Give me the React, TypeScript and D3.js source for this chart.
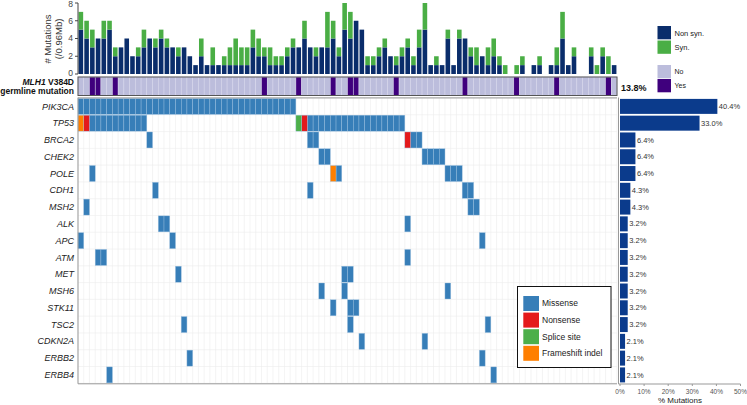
import React from 'react';
import * as d3 from 'd3';

const genes = ['PIK3CA', 'TP53', 'BRCA2', 'CHEK2', 'POLE', 'CDH1', 'MSH2', 'ALK', 'APC', 'ATM', 'MET', 'MSH6', 'STK11', 'TSC2', 'CDKN2A', 'ERBB2', 'ERBB4'];
const genePct = [40.4, 33.0, 6.4, 6.4, 6.4, 4.3, 4.3, 3.2, 3.2, 3.2, 3.2, 3.2, 3.2, 3.2, 2.1, 2.1, 2.1];

// per-sample mutation burden (94 samples)
const nonSyn = [5, 4, 3, 4, 4, 5, 2, 3, 4, 2, 2, 3, 4, 3, 4, 3, 3, 2, 3, 2, 1, 2, 1, 1, 1, 1, 1, 1, 1, 1,
  3, 2, 2, 1, 1, 1, 2, 3, 3, 4, 3, 2, 3, 3, 4, 2, 5, 4, 6, 5, 1, 1, 2, 3, 2, 1, 2, 3, 1, 3,
  5, 1, 1, 1, 4, 1, 4, 4, 2, 1, 2, 1, 2, 1, 0, 0, 0, 1, 0, 1, 1, 0, 1, 1, 4, 1, 2, 0, 0, 2,
  0, 2, 0, 1];
const syn = [2, 2, 2, 0, 2, 1, 1, 0, 0, 0, 1, 2, 0, 1, 1, 1, 0, 1, 0, 0, 0, 2, 0, 2, 0, 1, 2, 3, 2, 2,
  2, 2, 1, 2, 1, 1, 1, 1, 0, 2, 0, 1, 0, 4, 2, 1, 3, 3, 0, 0, 1, 1, 1, 1, 0, 1, 1, 1, 1, 2,
  3, 0, 1, 0, 1, 0, 1, 0, 1, 2, 0, 2, 2, 1, 1, 0, 1, 1, 0, 0, 1, 0, 0, 2, 3, 0, 1, 0, 0, 1,
  1, 1, 2, 0];

// MLH1 V384D germline carriers (sample indices)
const germlineYes = [2, 3, 6, 32, 38, 44, 47, 48, 55, 67, 76, 83, 92];

// somatic alterations per gene (sample indices)
const missense = [
  [0, 1, 2, 3, 4, 5, 6, 7, 8, 9, 10, 11, 12, 13, 14, 15, 16, 17, 18, 19, 20, 21, 22, 23, 24, 25, 26, 27, 28, 29, 30, 31, 32, 33, 34, 35, 36, 37],
  [2, 3, 4, 5, 6, 7, 8, 9, 10, 11, 40, 41, 42, 43, 44, 45, 46, 47, 48, 49, 50, 51, 52, 53, 54, 55, 56],
  [12, 40, 41, 58, 59],
  [42, 43, 60, 61, 62, 63],
  [2, 45, 64, 65, 66],
  [13, 40, 67, 68],
  [1, 68, 69],
  [14, 15, 57],
  [0, 16, 70],
  [3, 4, 57],
  [17, 46, 47],
  [42, 46, 64],
  [44, 47, 48],
  [18, 47, 71],
  [49, 60],
  [19, 70],
  [5, 72],
];
const nonsense = [[], [1, 39], [57], [], [], [], [], [], [], [], [], [], [], [], [], [], []];
const splice = [[], [38], [], [], [], [], [], [], [], [], [], [], [], [], [], [], []];
const frameshift = [[], [0], [], [], [44], [], [], [], [], [], [], [], [], [], [], [], []];

const typeNames = ['Missense', 'Nonsense', 'Splice site', 'Frameshift indel'];
const typeColors = ['#377eb8', '#e41a1c', '#4daf4a', '#ff7f00'];
const burdenNames = ['Non syn.', 'Syn.'];
const burdenColors = ['#0a2d6b', '#4aae45'];
const germNames = ['No', 'Yes'];
const germColors = ['#bcbddc', '#3f007d'];
const germPct = '13.8%';
const yTicks = [0, 2, 4, 6, 8];
const pctTicks = [0, 10, 20, 30, 40, 50];

const FONT = '"Liberation Sans", Arial, sans-serif';

export default function App() {
  const N = nonSyn.length;
  const gx0 = 78, gx1 = 617;
  const col = d3.scaleBand<number>().domain(d3.range(N)).range([gx0, gx1]);
  const bar = d3.scaleBand<number>().domain(d3.range(N)).range([gx0, gx1]).paddingInner(0.2).paddingOuter(0.1);
  const yTop = d3.scaleLinear().domain([0, 8]).range([74, 3]);
  const row = d3.scaleBand<string>().domain(genes).range([98, 383.3]);
  const xPct = d3.scaleLinear().domain([0, 50]).range([620, 740.5]);
  const w = col.bandwidth();
  const rh = row.bandwidth();
  const gTop = 77, gBot = 95.5;

  const cells: { g: number; i: number; t: number }[] = [];
  genes.forEach((_, gi) => {
    [missense, nonsense, splice, frameshift].forEach((arr, t) => {
      arr[gi].forEach((i) => cells.push({ g: gi, i, t }));
    });
  });

  return (
    <svg width={747} height={405} style={{ display: 'block', position: 'absolute', left: 0, top: 0 }} fontFamily={FONT}>
      <rect width={747} height={405} fill="#fff" />
      {/* top burden chart */}
      {d3.range(N).map((i) => (
        <g key={'b' + i}>
          {nonSyn[i] > 0 && (
            <rect x={bar(i)} y={yTop(nonSyn[i])} width={bar.bandwidth()} height={yTop(0) - yTop(nonSyn[i])} fill={burdenColors[0]} />
          )}
          {syn[i] > 0 && (
            <rect x={bar(i)} y={yTop(nonSyn[i] + syn[i])} width={bar.bandwidth()} height={yTop(nonSyn[i]) - yTop(nonSyn[i] + syn[i])} fill={burdenColors[1]} />
          )}
        </g>
      ))}
      <line x1={gx0} x2={gx0} y1={yTop(0)} y2={yTop(8)} stroke="#444" strokeWidth={1} />
      {yTicks.map((t) => (
        <g key={'yt' + t}>
          <line x1={gx0 - 3} x2={gx0} y1={yTop(t)} y2={yTop(t)} stroke="#444" />
          <text x={gx0 - 5} y={Math.max(yTop(t), 4.5) - (t === 0 ? 1 : 0)} dy="0.35em" textAnchor="end" fontSize={8.5} fill="#444">{t}</text>
        </g>
      ))}
      <text transform={`translate(51,${39}) rotate(-90)`} textAnchor="middle" fontSize={9.5} fill="#333">
        <tspan x={0} y={0}># Mutations</tspan>
        <tspan x={0} y={10.5}>(/0.96Mb)</tspan>
      </text>

      {/* germline row */}
      {d3.range(N).map((i) => (
        <rect key={'gm' + i} x={col(i)} y={gTop} width={w} height={gBot - gTop}
          fill={germlineYes.includes(i) ? germColors[1] : germColors[0]} stroke="#d8d8ec" strokeWidth={0.5} />
      ))}
      <rect x={gx0} y={gTop} width={gx1 - gx0} height={gBot - gTop} fill="none" stroke="#555" strokeWidth={1} />
      <text x={74} y={85} textAnchor="end" fontSize={8.5} fontWeight="bold" fill="#111">
        <tspan fontStyle="italic">MLH1</tspan> V384D
      </text>
      <text x={74} y={94} textAnchor="end" fontSize={8.5} fontWeight="bold" fill="#111">germline mutation</text>
      <text x={621} y={91} fontSize={9} fontWeight="bold" fill="#111">{germPct}</text>

      {/* main grid background */}
      {d3.range(N + 1).map((i) => (
        <line key={'vl' + i} x1={gx0 + i * w} x2={gx0 + i * w} y1={98} y2={383.3} stroke="#ededed" strokeWidth={0.6} />
      ))}
      {d3.range(genes.length + 1).map((r) => (
        <line key={'hl' + r} x1={gx0} x2={gx1} y1={98 + r * rh} y2={98 + r * rh} stroke="#ededed" strokeWidth={0.6} />
      ))}
      {cells.map((c, k) => (
        <rect key={'c' + k} x={col(c.i)} y={(row(genes[c.g]) as number) + 0.4} width={w} height={rh - 0.8}
          fill={typeColors[c.t]} stroke="#9cc0e0" strokeWidth={0.4} />
      ))}
      <line x1={gx0} x2={gx1} y1={97.8} y2={97.8} stroke="#aaa" strokeWidth={1.2} />
      <line x1={gx0} x2={gx0} y1={97.5} y2={383.8} stroke="#999" strokeWidth={1} />
      <line x1={gx0} x2={gx1} y1={383.8} y2={383.8} stroke="#999" strokeWidth={1} />
      {genes.map((g) => (
        <text key={'gl' + g} x={74} y={(row(g) as number) + rh / 2} dy="0.35em" textAnchor="end" fontSize={9} fontStyle="italic" fill="#222">{g}</text>
      ))}

      {/* right percent chart */}
      {genes.map((g, gi) => (
        <g key={'pb' + g}>
          <rect x={xPct(0)} y={(row(g) as number) + 0.9} width={xPct(genePct[gi]) - xPct(0)} height={rh - 1.8} fill="#0b3b8c" />
          <text x={xPct(genePct[gi]) + 1.5} y={(row(g) as number) + rh / 2} dy="0.35em" fontSize={7.5} fill="#333">{genePct[gi].toFixed(1)}%</text>
        </g>
      ))}
      <line x1={618.5} x2={618.5} y1={97.5} y2={384} stroke="#999" strokeWidth={1} />
      <line x1={618.5} x2={xPct(50)} y1={384} y2={384} stroke="#999" strokeWidth={1} />
      {pctTicks.map((t) => (
        <g key={'pt' + t}>
          <line x1={xPct(t)} x2={xPct(t)} y1={384} y2={386} stroke="#999" />
          <text x={xPct(t)} y={393.5} textAnchor="middle" fontSize={6.5} fill="#555">{t}%</text>
        </g>
      ))}
      <text x={680} y={403} textAnchor="middle" fontSize={8} fill="#222">% Mutations</text>

      {/* top-right legends */}
      {burdenNames.map((n, k) => (
        <g key={'lb' + n}>
          <rect x={657.5} y={26 + k * 14.5} width={13.5} height={13.3} fill={burdenColors[k]} />
          <text x={674.5} y={33 + k * 14.5} dy="0.35em" fontSize={7.5} fill="#222">{n}</text>
        </g>
      ))}
      {germNames.map((n, k) => (
        <g key={'lg' + n}>
          <rect x={657.5} y={65 + k * 14} width={13.5} height={13.3} fill={germColors[k]} />
          <text x={674.5} y={71.5 + k * 14} dy="0.35em" fontSize={7} fill="#222">{n}</text>
        </g>
      ))}

      {/* mutation type legend */}
      <rect x={517.5} y={286.5} width={93.5} height={81} fill="#fff" stroke="#111" strokeWidth={1} />
      {typeNames.map((n, k) => (
        <g key={'lt' + n}>
          <rect x={523.3} y={296 + k * 16.6} width={15.7} height={15} fill={typeColors[k]} />
          <text x={542} y={303.5 + k * 16.6} dy="0.35em" fontSize={8.5} fill="#222">{n}</text>
        </g>
      ))}
    </svg>
  );
}
